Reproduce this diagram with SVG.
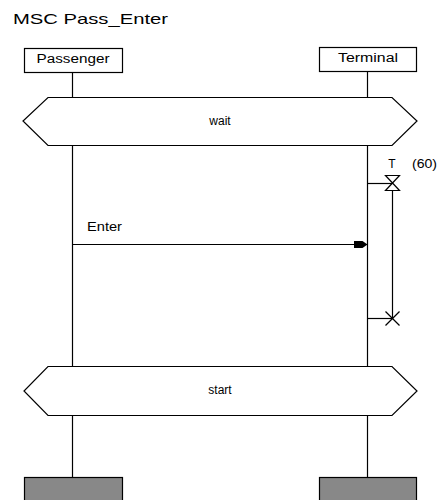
<svg xmlns="http://www.w3.org/2000/svg" width="438" height="500" viewBox="0 0 438 500">
  <style>
    .ln { stroke: #000; stroke-width: 1.2; fill: none; }
    .box { stroke: #000; stroke-width: 1.2; fill: #fff; }
    .end { stroke: #000; stroke-width: 1.2; fill: #888; }
    .cond { stroke: #000; stroke-width: 1.2; fill: #fff; }
    .t { font-family: "Liberation Sans", Arial, sans-serif; font-size: 12px; fill: #000; }
    .title { font-family: "Liberation Sans", Arial, sans-serif; font-size: 15px; fill: #000; }
  </style>
  <defs>
    <marker id="arrow" markerWidth="14" markerHeight="10" refX="14" refY="5" orient="auto" markerUnits="userSpaceOnUse">
      <path d="M0,1.5 L9,1.5 L14,5 L9,8.5 L0,8.5 Z" fill="#000"/>
    </marker>
  </defs>

  <text class="title" x="13" y="24" textLength="155" lengthAdjust="spacingAndGlyphs">MSC Pass_Enter</text>

  <g id="connectors">
    <!-- lifelines -->
    <line class="ln" x1="72.5" y1="72" x2="72.5" y2="97"/>
    <line class="ln" x1="72.5" y1="145" x2="72.5" y2="366"/>
    <line class="ln" x1="72.5" y1="416" x2="72.5" y2="477"/>
    <line class="ln" x1="367.5" y1="72" x2="367.5" y2="97"/>
    <line class="ln" x1="367.5" y1="145" x2="367.5" y2="366"/>
    <line class="ln" x1="367.5" y1="416" x2="367.5" y2="477"/>
    <!-- message Enter -->
    <line class="ln" x1="72.5" y1="244.5" x2="367.5" y2="244.5" marker-end="url(#arrow)"/>
  </g>

  <g id="passenger">
    <rect class="box" x="24.5" y="48.5" width="98" height="24"/>
    <text class="t" x="73" y="63" text-anchor="middle" textLength="73" lengthAdjust="spacingAndGlyphs">Passenger</text>
  </g>

  <g id="terminal">
    <rect class="box" x="319.5" y="47.5" width="97" height="24"/>
    <text class="t" x="368" y="62" text-anchor="middle" textLength="60" lengthAdjust="spacingAndGlyphs">Terminal</text>
  </g>

  <g id="cond-wait">
    <polygon class="cond" points="48,97.5 392,97.5 417,121 392,145.5 48,145.5 23,121"/>
    <text class="t" x="220" y="125" text-anchor="middle">wait</text>
  </g>

  <g id="msg-enter">
    <text class="t" x="87" y="231" textLength="35" lengthAdjust="spacingAndGlyphs">Enter</text>
  </g>

  <g id="timer-T">
    <line class="ln" x1="367.5" y1="183.5" x2="392.5" y2="183.5"/>
    <path class="ln" d="M385.5,175.5 L399.5,175.5 L385.5,190.5 L399.5,190.5 Z"/>
    <line class="ln" x1="392.5" y1="190.5" x2="392.5" y2="318.5"/>
    <line class="ln" x1="367.5" y1="318.5" x2="392.5" y2="318.5"/>
    <line class="ln" x1="385.5" y1="311.5" x2="399.5" y2="325.5"/>
    <line class="ln" x1="399.5" y1="311.5" x2="385.5" y2="325.5"/>
    <text class="t" x="392" y="168" text-anchor="middle">T</text>
    <text class="t" x="412" y="168" textLength="25" lengthAdjust="spacingAndGlyphs">(60)</text>
  </g>

  <g id="cond-start">
    <polygon class="cond" points="48,366.5 392,366.5 417,391 392,415.5 48,415.5 24,391"/>
    <text class="t" x="220" y="394" text-anchor="middle">start</text>
  </g>

  <g id="passenger-end">
    <rect class="end" x="24.5" y="477.5" width="98" height="30"/>
  </g>
  <g id="terminal-end">
    <rect class="end" x="319.5" y="477.5" width="97" height="30"/>
  </g>
</svg>
